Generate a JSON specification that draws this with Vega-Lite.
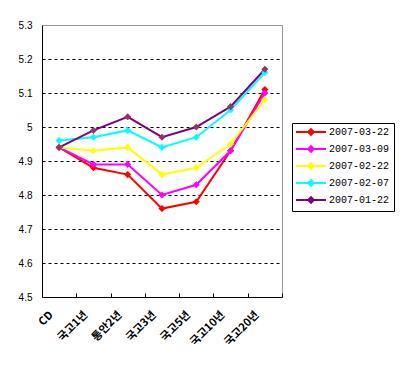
{
  "$schema": "https://vega.github.io/schema/vega-lite/v6.json",
  "width": 240,
  "height": 272,
  "autosize": "none",
  "padding": {"left": 42, "top": 25, "right": 125, "bottom": 75},
  "background": "white",
  "config": {
    "view": {"stroke": "#999999", "strokeWidth": 1},
    "font": "Liberation Sans"
  },
  "data": {
    "values": [
      {"date": "2007-03-22", "term": "CD", "yield": 4.94},
      {"date": "2007-03-22", "term": "국고1년", "yield": 4.88},
      {"date": "2007-03-22", "term": "통안2년", "yield": 4.86},
      {"date": "2007-03-22", "term": "국고3년", "yield": 4.76},
      {"date": "2007-03-22", "term": "국고5년", "yield": 4.78},
      {"date": "2007-03-22", "term": "국고10년", "yield": 4.93},
      {"date": "2007-03-22", "term": "국고20년", "yield": 5.11},
      {"date": "2007-03-09", "term": "CD", "yield": 4.94},
      {"date": "2007-03-09", "term": "국고1년", "yield": 4.89},
      {"date": "2007-03-09", "term": "통안2년", "yield": 4.89},
      {"date": "2007-03-09", "term": "국고3년", "yield": 4.80},
      {"date": "2007-03-09", "term": "국고5년", "yield": 4.83},
      {"date": "2007-03-09", "term": "국고10년", "yield": 4.93},
      {"date": "2007-03-09", "term": "국고20년", "yield": 5.10},
      {"date": "2007-02-22", "term": "CD", "yield": 4.94},
      {"date": "2007-02-22", "term": "국고1년", "yield": 4.93},
      {"date": "2007-02-22", "term": "통안2년", "yield": 4.94},
      {"date": "2007-02-22", "term": "국고3년", "yield": 4.86},
      {"date": "2007-02-22", "term": "국고5년", "yield": 4.88},
      {"date": "2007-02-22", "term": "국고10년", "yield": 4.95},
      {"date": "2007-02-22", "term": "국고20년", "yield": 5.08},
      {"date": "2007-02-07", "term": "CD", "yield": 4.96},
      {"date": "2007-02-07", "term": "국고1년", "yield": 4.97},
      {"date": "2007-02-07", "term": "통안2년", "yield": 4.99},
      {"date": "2007-02-07", "term": "국고3년", "yield": 4.94},
      {"date": "2007-02-07", "term": "국고5년", "yield": 4.97},
      {"date": "2007-02-07", "term": "국고10년", "yield": 5.05},
      {"date": "2007-02-07", "term": "국고20년", "yield": 5.16},
      {"date": "2007-01-22", "term": "CD", "yield": 4.94},
      {"date": "2007-01-22", "term": "국고1년", "yield": 4.99},
      {"date": "2007-01-22", "term": "통안2년", "yield": 5.03},
      {"date": "2007-01-22", "term": "국고3년", "yield": 4.97},
      {"date": "2007-01-22", "term": "국고5년", "yield": 5.00},
      {"date": "2007-01-22", "term": "국고10년", "yield": 5.06},
      {"date": "2007-01-22", "term": "국고20년", "yield": 5.17}
    ]
  },
  "encoding": {
    "x": {
      "field": "term",
      "type": "nominal",
      "sort": ["CD", "국고1년", "통안2년", "국고3년", "국고5년", "국고10년", "국고20년"],
      "scale": {"type": "band", "paddingInner": 0, "paddingOuter": 0},
      "axis": {
        "title": null,
        "domainColor": "black",
        "tickColor": "black",
        "tickBand": "extent",
        "tickSize": -4,
        "labelAngle": -45,
        "labelAlign": "right",
        "labelBaseline": "middle",
        "labelPadding": 20,
        "labelOffset": -8,
        "labelFont": "Noto Sans CJK KR",
        "labelFontSize": 11,
        "labelFontWeight": "bold",
        "labelColor": "black",
        "grid": false
      }
    },
    "y": {
      "field": "yield",
      "type": "quantitative",
      "scale": {"domain": [4.5, 5.3], "nice": false, "zero": false},
      "axis": {
        "title": null,
        "values": [4.5, 4.6, 4.7, 4.8, 4.9, 5.0, 5.1, 5.2, 5.3],
        "format": ".1~f",
        "ticks": false,
        "domainColor": "black",
        "labelPadding": 10,
        "labelFont": "Liberation Sans",
        "labelFontSize": 10,
        "labelColor": "black",
        "grid": true,
        "gridColor": {"condition": {"test": "datum.value > 5.25 || datum.value < 4.55", "value": "transparent"}, "value": "black"},
        "gridDash": [3, 3],
        "gridWidth": 1
      }
    }
  },
  "layer": [
    {
      "mark": {"type": "line", "strokeWidth": 2},
      "encoding": {
        "color": {
          "field": "date",
          "type": "nominal",
          "scale": {
            "domain": ["2007-03-22", "2007-03-09", "2007-02-22", "2007-02-07", "2007-01-22"],
            "range": ["#ff0000", "#ff00ff", "#ffff00", "#00ffff", "#800080"]
          },
          "legend": {
            "title": null,
            "orient": "none",
            "legendX": 250,
            "legendY": 98,
            "strokeColor": "black",
            "padding": 4,
            "symbolType": "M-3.75,0L3.75,0M-0.7,0L0,-0.7L0.7,0L0,0.7Z",
            "symbolSize": 64,
            "symbolStrokeWidth": 2,
            "symbolOffset": 10,
            "labelOffset": 13,
            "labelFont": "Liberation Mono",
            "labelFontSize": 10,
            "labelColor": "black",
            "rowPadding": 3,
            "encode": {"symbols": {"update": {"fill": {"scale": "color", "field": "value"}}}}
          }
        }
      }
    },
    {
      "mark": {"type": "point", "shape": "diamond", "filled": true, "size": 50, "opacity": 1},
      "encoding": {
        "fill": {
          "field": "date",
          "type": "nominal",
          "scale": {
            "domain": ["2007-03-22", "2007-03-09", "2007-02-22", "2007-02-07", "2007-01-22"],
            "range": ["#ff0000", "#ff00ff", "#ffff00", "#00ffff", "#993366"]
          },
          "legend": null
        }
      }
    }
  ]
}
